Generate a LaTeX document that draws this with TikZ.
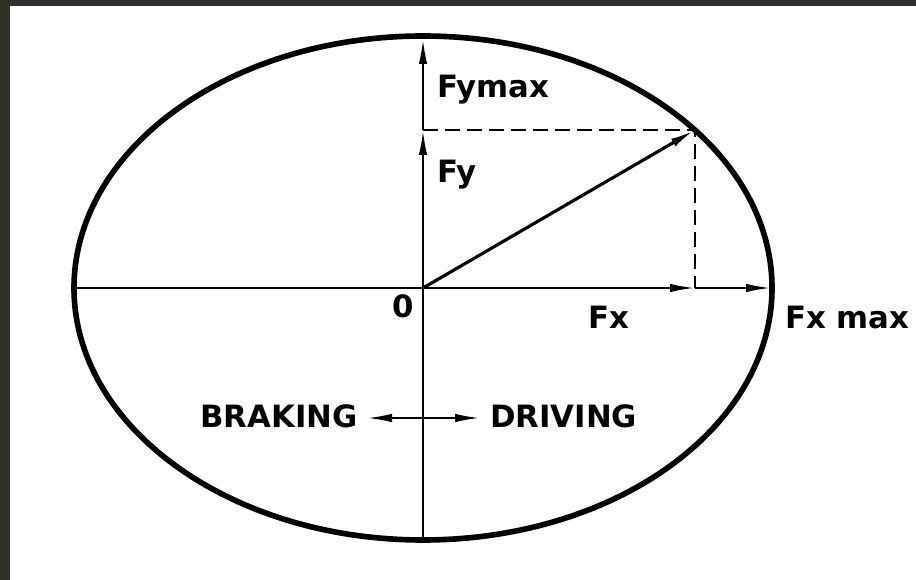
\documentclass[tikz,border=0pt]{standalone}
\usepackage{fontspec}
\setmainfont{DejaVu Sans}
\usetikzlibrary{arrows.meta}

\begin{document}
\begin{tikzpicture}[
    x=0.02cm,
    y=-0.02cm,
    every node/.style={font=\fontsize{17.5}{20}\selectfont\bfseries, inner sep=0pt},
    rim/.style={draw=black, line width=3.2pt},
    axis/.style={draw=black, line width=1.3pt},
    vec/.style={axis, -{Latex[length=0.5cm, width=0.17cm]}},
    force/.style={vec, line width=1.8pt},
    guide/.style={draw=black, line width=1.2pt, dash pattern=on 0.3cm off 0.14cm}
  ]
    \fill[black!85!olive] (0,0) rectangle (916,580);
    \fill[white] (10,6) rectangle (916,580);
    \useasboundingbox (0,0) rectangle (916,580);

    \coordinate (O) at (423,288);
    \coordinate (P) at (695,130);
    \coordinate (px) at (695,288);
    \coordinate (py) at (423,130);
    \coordinate (xmax) at (771,288);
    \coordinate (xmin) at (75,288);
    \coordinate (ymax) at (423,39);
    \coordinate (ymin) at (423,539);
    \coordinate (bl) at (367,418);
    \coordinate (br) at (480,418);
    \coordinate (bc) at (423,418);

    \draw[rim] (O) ellipse [x radius=349, y radius=252];

    \draw[axis] (xmin) -- (O);
    \draw[axis] (O) -- (ymin);
    \draw[vec] (O) -- (px);
    \draw[vec] (px) -- (xmax);
    \draw[vec] (O) -- (py);
    \draw[vec] (py) -- (ymax);
    \draw[force] (O) -- (P);
    \draw[guide] (py) -- (P) -- (px);

    \draw[vec] (bc) -- (bl);
    \draw[vec] (bc) -- (br);

    \node[anchor=base west] (fymax) at (437,98) {Fymax};
    \node[anchor=base west] (fy) at (437,183) {Fy};
    \node[anchor=base west] (fx) at (588,329) {Fx};
    \node[anchor=base west] (fxmax) at (785,329) {Fx max};
    \node[anchor=base west] (zero) at (392,318) {0};
    \node[anchor=base east] (braking) at (358,428) {BRAKING};
    \node[anchor=base west] (driving) at (490,428) {DRIVING};
  \end{tikzpicture}
\end{document}
